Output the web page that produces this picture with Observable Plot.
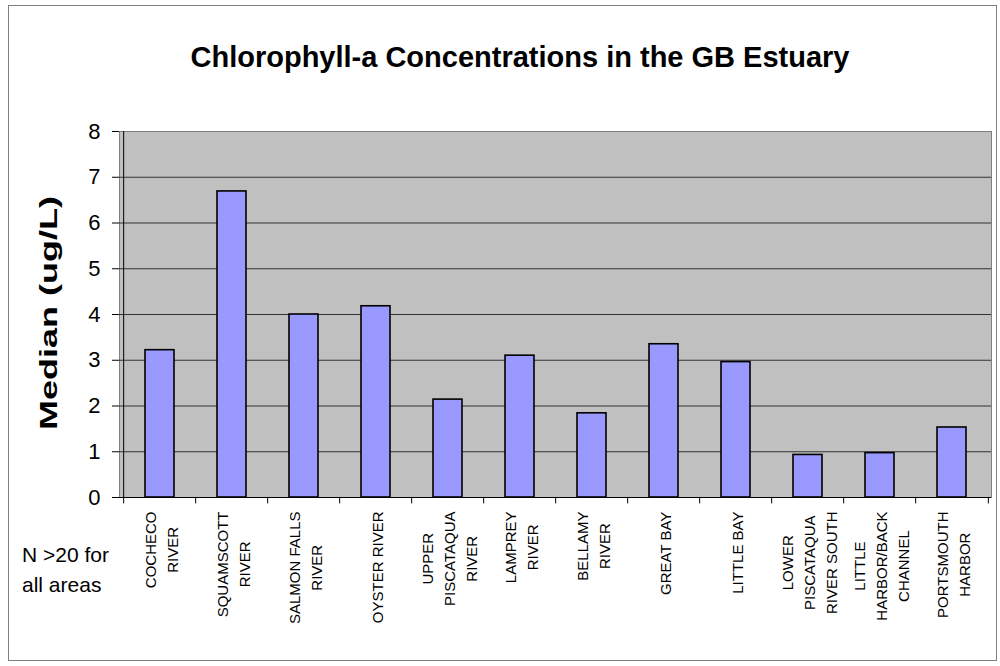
<!DOCTYPE html>
<html>
<head>
<meta charset="utf-8">
<script src="https://cdn.jsdelivr.net/npm/d3@7"></script>
<script src="https://cdn.jsdelivr.net/npm/@observablehq/plot@0.6"></script>
<style>
  html, body { margin: 0; padding: 0; background: #fff; }
  #wrap { position: relative; width: 1000px; height: 666px; overflow: hidden; font-family: "Liberation Sans", Arial, sans-serif; }
  #border { position: absolute; left: 8px; top: 5px; width: 989px; height: 656px; border: 1px solid #808080; box-sizing: border-box; }
  #title { position: absolute; left: 0; width: 1040px; top: 43px; text-align: center; font-weight: bold; font-size: 29px; line-height: 1; color: #000; white-space: nowrap; }
  #ylabel { position: absolute; left: 49px; top: 313px; transform: translate(-50%, -50%) rotate(-90deg) scaleX(1.5); font-weight: bold; font-size: 24px; line-height: 1; white-space: nowrap; color: #000; }
  #note { position: absolute; left: 22px; top: 540px; font-size: 21px; line-height: 30px; color: #000; }
  #chart { position: absolute; left: 0; top: 0; }
</style>
</head>
<body>
<div id="wrap">
  <div id="border"></div>
  <div id="chart"></div>
  <div id="title"></div>
  <div id="ylabel"></div>
  <div id="note"></div>
</div>
<script>
const titleText = "Chlorophyll-a Concentrations in the GB Estuary";
const yLabelText = "Median (ug/L)";
const noteLines = ["N >20 for", "all areas"];
const categories = [
  "COCHECO\nRIVER",
  "SQUAMSCOTT\nRIVER",
  "SALMON FALLS\nRIVER",
  "OYSTER RIVER",
  "UPPER\nPISCATAQUA\nRIVER",
  "LAMPREY\nRIVER",
  "BELLAMY\nRIVER",
  "GREAT BAY",
  "LITTLE BAY",
  "LOWER\nPISCATAQUA\nRIVER SOUTH",
  "LITTLE\nHARBOR/BACK\nCHANNEL",
  "PORTSMOUTH\nHARBOR"
];
const medians = [3.22, 6.69, 4.00, 4.18, 2.14, 3.10, 1.84, 3.35, 2.96, 0.93, 0.97, 1.53];
const yTicks = [0, 1, 2, 3, 4, 5, 6, 7, 8];
const gridValues = [1, 2, 3, 4, 5, 6, 7];

const rows = categories.map((c, i) => ({cat: c, value: medians[i]}));

document.getElementById("title").textContent = titleText;
document.getElementById("ylabel").textContent = yLabelText;
document.getElementById("note").innerHTML = noteLines.join("<br>");

const W = 1000, H = 666, mL = 119, mR = 9, mT = 131, mB = 169;
const half = (W - mL - mR) / categories.length / 2;
const FONT = '"Liberation Sans", Arial, sans-serif';
const xFont = 15;

const ctx = document.createElement("canvas").getContext("2d");
ctx.font = `${xFont}px ${FONT}`;
const maxLine = c => Math.max(...c.split("\n").map(s => ctx.measureText(s).width));

const labelMarks = categories.map(c =>
  Plot.text([c], {
    x: d => d, text: d => d, frameAnchor: "bottom",
    rotate: -90, textAnchor: "middle", lineAnchor: "middle",
    lineHeight: 1.45, fontSize: xFont, fill: "#000",
    dy: 14 + maxLine(c) / 2
  })
);

const plot = Plot.plot({
  width: W, height: H,
  marginLeft: mL, marginRight: mR, marginTop: mT, marginBottom: mB,
  style: {fontFamily: FONT, background: "transparent", overflow: "visible", color: "#000"},
  x: {domain: categories, paddingInner: 0.6, paddingOuter: 0.3, axis: null},
  y: {domain: [0, 8], axis: null},
  marks: [
    Plot.frame({fill: "#c0c0c0", stroke: "#808080"}),
    Plot.ruleY(gridValues, {stroke: "#333", strokeWidth: 1}),
    Plot.barY(rows, {x: "cat", y: "value", fill: "#9999ff", stroke: "#000", strokeWidth: 1.6}),
    Plot.ruleY([0], {stroke: "#000"}),
    Plot.ruleX([categories[0]], {dx: -half, y1: 0, y2: 8, stroke: "#000"}),
    Plot.ruleX(categories, {dx: -half, y1: 0, y2: -0.14, stroke: "#000"}),
    Plot.ruleX([categories[categories.length - 1]], {dx: half, y1: 0, y2: -0.14, stroke: "#000"}),
    Plot.axisY({ticks: yTicks, tickSize: 7, tickPadding: 12, fontSize: 22, label: null, tickFormat: d => String(d), stroke: "#000"}),
    ...labelMarks
  ]
});
document.getElementById("chart").appendChild(plot);
</script>
</body>
</html>
